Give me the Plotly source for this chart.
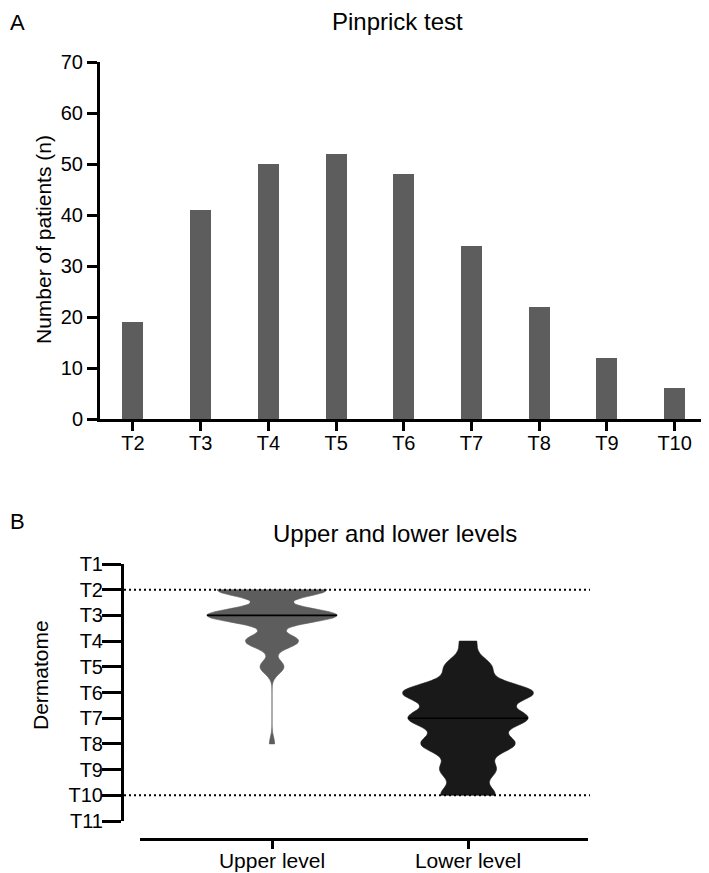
import numpy as np
import plotly.graph_objects as go

# ---------------- data ----------------
# Panel A: pinprick test
pin_levels = ["T2", "T3", "T4", "T5", "T6", "T7", "T8", "T9", "T10"]
pin_counts = [19, 41, 50, 52, 48, 34, 22, 12, 6]
pin_yticks = [0, 10, 20, 30, 40, 50, 60, 70]

# Panel B: upper and lower block levels (dermatome number -> patients)
derm_ticks = [1, 2, 3, 4, 5, 6, 7, 8, 9, 10, 11]
derm_labels = ["T1", "T2", "T3", "T4", "T5", "T6", "T7", "T8", "T9", "T10", "T11"]
upper_levels = [2, 3, 4, 5, 8]
upper_counts = [83, 98, 40, 18, 4]
lower_levels = [4, 5, 6, 7, 8, 9, 10]
lower_counts = [8, 22, 62, 56, 44, 26, 26]
groups = ["Upper level", "Lower level"]
ref_levels = [2, 10]

# ---------------- style / layout helpers ----------------
OFF = 8                     # page body margin of the html page
W, H = 709 - OFF, 873 - OFF
FONT = "Liberation Sans, Arial, Helvetica, sans-serif"
GREY = "#5d5d5d"
DARK = "#191919"
upper_bw, lower_bw = 0.27, 0.37


def fx(px):
    return (px - OFF) / W


def fy(py):
    return 1 - (py - OFF) / H


# panel B geometry (pixels)
c_up, c_low = 272, 468
unit = c_low - c_up
vio_width = 130 / unit
x2_range = [(124 - c_up) / unit, (590 - c_up) / unit]
x3_range = [(140 - c_up) / unit, (588 - c_up) / unit]

upper_data = np.repeat(upper_levels, upper_counts).astype(float)
lower_data = np.repeat(lower_levels, lower_counts).astype(float)


def kde(pts, data, bw):
    z = (np.asarray(pts)[:, None] - data[None, :]) / bw
    return np.exp(-0.5 * z ** 2).sum(axis=1)


def median_halfwidth(data, bw):
    lo, hi = data.min(), data.max()
    n = int(np.ceil((hi - lo) / (bw / 3)))
    grid = np.linspace(lo, hi, n + 1)
    med = float(np.median(data))
    ratio = kde([med], data, bw)[0] / kde(grid, data, bw).max()
    return med, ratio * vio_width / 2


fig = go.Figure()

# ---- Panel A bars ----
fig.add_trace(go.Bar(
    x=pin_levels, y=pin_counts, width=0.31,
    marker=dict(color=GREY, line=dict(width=0)),
    xaxis="x", yaxis="y", showlegend=False,
))

# ---- Panel B reference dotted lines ----
for lv in ref_levels:
    fig.add_trace(go.Scatter(
        x=x2_range, y=[lv, lv], mode="lines",
        line=dict(color="black", width=2, dash="2px,3px"),
        xaxis="x2", yaxis="y2", showlegend=False, hoverinfo="skip",
    ))

# ---- Panel B violins ----
for i, (data, col, bw) in enumerate([(upper_data, GREY, upper_bw),
                                      (lower_data, DARK, lower_bw)]):
    fig.add_trace(go.Violin(
        y=data, x0=i, name=groups[i], width=vio_width,
        bandwidth=bw, spanmode="hard", scalemode="width", side="both",
        points=False, fillcolor=col, line=dict(color=col, width=0.6),
        box_visible=False, meanline_visible=False,
        xaxis="x2", yaxis="y2", showlegend=False, hoverinfo="skip",
    ))

# ---- median lines ----
for i, (data, bw) in enumerate([(upper_data, upper_bw), (lower_data, lower_bw)]):
    med, hw = median_halfwidth(data, bw)
    fig.add_trace(go.Scatter(
        x=[i - hw, i + hw], y=[med, med], mode="lines",
        line=dict(color="black", width=1.6),
        xaxis="x3", yaxis="y2", showlegend=False, hoverinfo="skip",
    ))

axis_common = dict(showline=True, linecolor="black", linewidth=3,
                   ticks="outside", tickcolor="black", tickwidth=3,
                   showgrid=False, zeroline=False, automargin=False,
                   fixedrange=True)

fig.update_layout(
    width=W, height=H, autosize=False,
    margin=dict(l=0, r=0, t=0, b=0, pad=0),
    paper_bgcolor="white", plot_bgcolor="rgba(0,0,0,0)",
    font=dict(family=FONT, color="black", size=20),
    bargap=0,
    xaxis=dict(axis_common, domain=[fx(100), fx(708)], anchor="y",
               type="category", range=[-0.487, 8.493], ticklen=9,
               ticklabelstandoff=-5, tickfont=dict(size=20)),
    yaxis=dict(axis_common, domain=[fy(419), fy(62)], anchor="x",
               range=[0, 70], tickvals=pin_yticks, ticklen=10,
               tickfont=dict(size=20)),
    xaxis2=dict(domain=[fx(124), fx(590)], anchor="y2", range=x2_range,
                visible=False, fixedrange=True),
    yaxis2=dict(axis_common, domain=[fy(821), fy(564)], anchor="x2",
                range=[11, 1], tickvals=derm_ticks, ticktext=derm_labels,
                ticklen=19, ticklabelstandoff=-5, tickfont=dict(size=20)),
    xaxis3=dict(axis_common, domain=[fx(140), fx(588)], anchor="free",
                position=fy(839), range=x3_range, tickvals=[0, 1],
                ticktext=groups, ticklen=8, ticklabelstandoff=-6,
                tickfont=dict(size=21)),
    annotations=[
        dict(text="A", x=0, y=1, xref="paper", yref="paper",
             xanchor="left", yanchor="top", showarrow=False,
             font=dict(size=22)),
        dict(text="Pinprick test", x=fx(397), y=fy(22), xref="paper",
             yref="paper", xanchor="center", yanchor="middle",
             showarrow=False, font=dict(size=24)),
        dict(text="Number of patients (n)", x=fx(44), y=fy(240),
             xref="paper", yref="paper", xanchor="center", yanchor="middle",
             textangle=-90, showarrow=False, font=dict(size=21)),
        dict(text="B", x=0, y=fy(521), xref="paper", yref="paper",
             xanchor="left", yanchor="middle", showarrow=False,
             font=dict(size=22)),
        dict(text="Upper and lower levels", x=fx(395), y=fy(533),
             xref="paper", yref="paper", xanchor="center", yanchor="middle",
             showarrow=False, font=dict(size=24)),
        dict(text="Dermatome", x=fx(40), y=fy(675), xref="paper",
             yref="paper", xanchor="center", yanchor="middle",
             textangle=-90, showarrow=False, font=dict(size=21)),
    ],
)

fig.write_html("out.html")
